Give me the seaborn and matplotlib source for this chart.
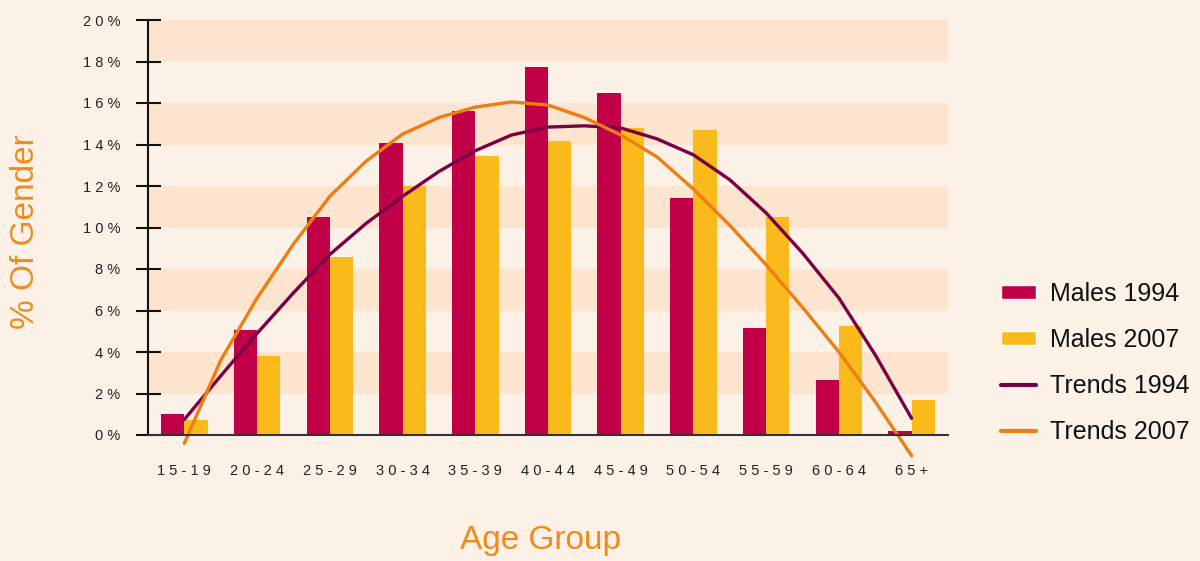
import numpy as np
import pandas as pd
import matplotlib
matplotlib.use('Agg')
import matplotlib.pyplot as plt
from matplotlib.patches import Patch
from matplotlib.lines import Line2D
import seaborn as sns

ages = ['15-19', '20-24', '25-29', '30-34', '35-39', '40-44',
        '45-49', '50-54', '55-59', '60-64', '65+']
males_1994 = [1.0, 5.05, 10.5, 14.05, 15.6, 17.75, 16.5, 11.4, 5.15, 2.65, 0.2]
males_2007 = [0.7, 3.8, 8.6, 12.0, 13.45, 14.15, 14.8, 14.7, 10.5, 5.25, 1.7]

trend_pos = np.arange(0, 10.5, 0.5)
trend_1994 = [0.75, 2.85, 4.9, 6.85, 8.7, 10.2, 11.5, 12.7, 13.7, 14.46, 14.84,
              14.9, 14.8, 14.27, 13.5, 12.3, 10.7, 8.77, 6.6, 3.86, 0.8]
trend_2007 = [-0.4, 3.6, 6.6, 9.2, 11.5, 13.2, 14.5, 15.3, 15.8, 16.05, 15.9,
              15.3, 14.46, 13.4, 11.85, 10.1, 8.2, 6.15, 4.0, 1.6, -1.0]
yticks = list(range(0, 21, 2))

bg = '#FCF1E7'
band = '#FCE4CF'
c94 = '#C20048'
c07 = '#FBBA1B'
t94c = '#7A0045'
t07c = '#EE7D12'
orange_txt = '#F08A1C'

sns.set_theme(style='white')
plt.rcParams['font.family'] = ['Liberation Sans', 'DejaVu Sans']

df = pd.DataFrame({
    'age': ages * 2,
    'pct': males_1994 + males_2007,
    'series': ['Males 1994'] * len(ages) + ['Males 2007'] * len(ages),
})

fig = plt.figure(figsize=(12, 5.61), dpi=100, facecolor=bg)
ax = fig.add_axes([148 / 1200, 1 - 435 / 561, 800 / 1200, 415 / 561])
ax.set_facecolor(bg)

for lo in range(2, 20, 4):
    ax.axhspan(lo, lo + 2, color=band, lw=0, zorder=0)

sns.barplot(data=df, x='age', y='pct', hue='series', order=ages,
            palette=[c94, c07], width=0.64, gap=0, saturation=1,
            linewidth=0, legend=False, ax=ax, zorder=2)

sns.lineplot(x=trend_pos, y=trend_1994, color=t94c, lw=2.4, sort=False,
             ax=ax, clip_on=False, zorder=3)
sns.lineplot(x=trend_pos, y=trend_2007, color=t07c, lw=2.4, sort=False,
             ax=ax, clip_on=False, zorder=3)

pos = np.arange(len(ages))
ax.set_xlim(-0.5, len(ages) - 0.5)
ax.set_ylim(0, 20)
ax.set_yticks(yticks)
ax.set_yticklabels([' '.join(str(v)) + ' %' for v in yticks])
ax.set_xticks(pos)
ax.set_xticklabels([' '.join(a) for a in ages])
ax.tick_params(axis='y', direction='inout', length=18, width=1.5,
               color='#111111', labelsize=10.5, labelcolor='#222222', pad=11, left=True)
ax.tick_params(axis='x', length=0, labelsize=10.5, labelcolor='#222222', pad=21)

for s in ['top', 'right']:
    ax.spines[s].set_visible(False)
ax.spines['left'].set_color('#111111')
ax.spines['left'].set_linewidth(1.5)
ax.spines['bottom'].set_color('#333333')
ax.spines['bottom'].set_linewidth(1.5)
ax.spines['bottom'].set_zorder(4)

ax.set_xlabel('Age Group', fontsize=24, color=orange_txt, va='center')
ax.xaxis.set_label_coords((540 - 148) / 800, (435 - 540) / 415)
ax.set_ylabel('% Of Gender', fontsize=24, color=orange_txt, va='center')
ax.yaxis.set_label_coords((25 - 148) / 800, (435 - 232) / 415)

handles = [Patch(facecolor=c94), Patch(facecolor=c07),
           Line2D([], [], color=t94c, lw=3), Line2D([], [], color=t07c, lw=3)]
labels = ['Males 1994', 'Males 2007', 'Trends 1994', 'Trends 2007']
fig.legend(handles, labels, loc='center left', bbox_to_anchor=(1001 / 1200, 1 - 363 / 561),
           frameon=False, fontsize=18, handlelength=1.4, handleheight=0.5,
           handletextpad=0.55, labelspacing=0.88, borderpad=0, borderaxespad=0,
           labelcolor='#111111')

fig.savefig('out.png', dpi=100, facecolor=bg)
